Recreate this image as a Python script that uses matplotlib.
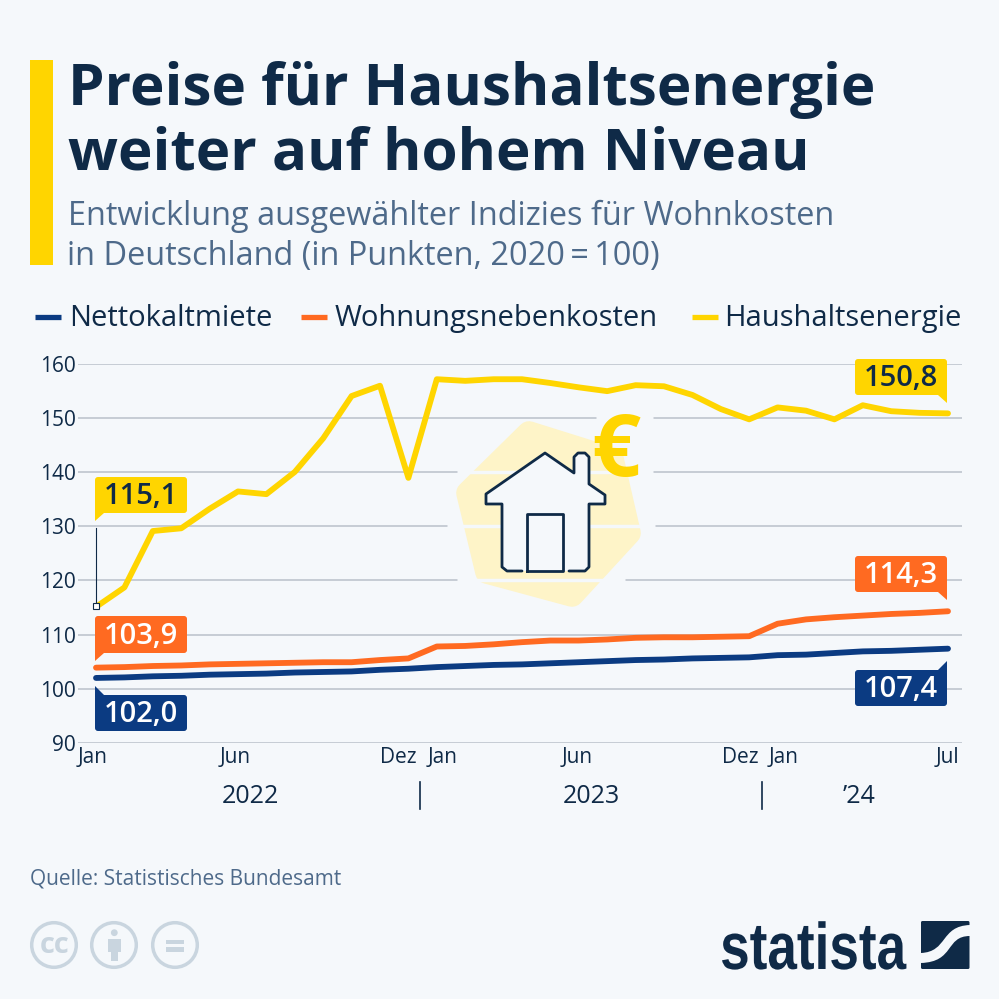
import matplotlib
matplotlib.use("Agg")
import matplotlib.pyplot as plt
from matplotlib.patches import FancyBboxPatch, Polygon, Rectangle, Circle, PathPatch
from matplotlib.path import Path
from matplotlib.patheffects import AbstractPathEffect
from matplotlib.transforms import Affine2D, ScaledTranslation

# Data
months = list(range(31))
haushaltsenergie = [115.1, 118.7, 129.1, 129.6, 133.2, 136.4, 135.9, 140.0, 146.2, 154.0, 155.9, 138.9,
                    157.1, 156.8, 157.1, 157.1, 156.4, 155.6, 154.9, 156.0, 155.8, 154.2, 151.6, 149.7,
                    151.9, 151.3, 149.7, 152.3, 151.2, 150.9, 150.8]
nebenkosten = [103.9, 104.0, 104.2, 104.3, 104.5, 104.6, 104.7, 104.8, 104.9, 104.9, 105.3, 105.6,
               107.8, 107.9, 108.2, 108.6, 108.9, 108.9, 109.1, 109.4, 109.5, 109.5, 109.6, 109.7,
               112.0, 112.8, 113.2, 113.5, 113.8, 114.0, 114.3]
nettokaltmiete = [102.0, 102.1, 102.3, 102.4, 102.6, 102.7, 102.8, 103.0, 103.1, 103.2, 103.5, 103.7,
                  104.0, 104.2, 104.4, 104.5, 104.7, 104.9, 105.1, 105.3, 105.4, 105.6, 105.7, 105.8,
                  106.2, 106.3, 106.6, 106.9, 107.0, 107.2, 107.4]
y_ticks = [90, 100, 110, 120, 130, 140, 150, 160]
x_tick_pos = [0, 5, 11, 12, 17, 23, 24, 30]
x_tick_labels = ["Jan", "Jun", "Dez", "Jan", "Jun", "Dez", "Jan", "Jul"]

# Colours
BG = "#F5F8FB"
DARK = "#0F2A47"
GREY = "#4E6A8A"
YELLOW = "#FFD500"
ORANGE = "#FF6A21"
BLUE = "#0B3B82"
ICON = "#C9D5DF"
HALO = "#FEF4C8"

plt.rcParams["font.family"] = ["Open Sans", "DejaVu Sans"]

fig = plt.figure(figsize=(9.99, 9.99), dpi=100, facecolor=BG)

# Main chart
ax = fig.add_axes([78 / 999, (999 - 743) / 999, 884 / 999, 379.5 / 999], facecolor="none")
ax.set_xlim(-18 / 28.4, 866 / 28.4)
ax.set_ylim(90, 160)
ax.plot(months, nettokaltmiete, color=BLUE, linewidth=4.2, solid_capstyle="round", zorder=3)
ax.plot(months, nebenkosten, color=ORANGE, linewidth=4.2, solid_capstyle="round", zorder=4)
ax.plot(months, haushaltsenergie, color=YELLOW, linewidth=4.2, solid_capstyle="round", zorder=5)

ax.set_yticks(y_ticks)
ax.grid(True, axis="y", color="#B9C1CA", linewidth=1.1)
ax.grid(False, axis="x")
ax.set_axisbelow(True)
for spine in ax.spines.values():
    spine.set_visible(False)
ax.tick_params(axis="y", length=0, pad=1.5, labelsize=15, labelcolor=DARK)
ax.set_xticks(x_tick_pos)
ax.set_xticklabels(x_tick_labels)
ax.tick_params(axis="x", length=0, pad=3, labelsize=15, labelcolor=DARK)
x_shift = [-3, -3, -10, 6, -2, -9, 6, -1]
for lab, dx in zip(ax.get_xticklabels(), x_shift):
    lab.set_transform(lab.get_transform() + ScaledTranslation(dx / 100, 0, fig.dpi_scale_trans))

# Overlay in pixel coordinates
ov = fig.add_axes([0, 0, 1, 1], facecolor="none")
ov.set_xlim(0, 999)
ov.set_ylim(999, 0)
ov.axis("off")

# Title block
ov.add_patch(Rectangle((30, 60), 23, 205, color=YELLOW, lw=0))
ov.text(68, 105, "Preise für Haushaltsenergie", fontsize=42, fontweight="bold", color=DARK, va="baseline")
ov.text(68, 170, "weiter auf hohem Niveau", fontsize=42, fontweight="bold", color=DARK, va="baseline")
ov.text(68, 225, "Entwicklung ausgewählter Indizies für Wohnkosten", fontsize=23.4, color=GREY, va="baseline")
ov.text(67, 265, "in Deutschland (in Punkten, 2020\u2009=\u2009100)", fontsize=23.4, color=GREY, va="baseline")

# Legend
legend_items = [("Nettokaltmiete", BLUE, 35, 69), ("Wohnungsnebenkosten", ORANGE, 301, 335),
                ("Haushaltsenergie", YELLOW, 692, 724)]
for name, col, x0, xt in legend_items:
    ov.plot([x0, x0 + 26], [317, 317], color=col, linewidth=3.8, solid_capstyle="butt")
    ov.text(xt, 326, name, fontsize=21, color=DARK, va="baseline")

# Gaps in the grid around the icon
for y, x0, x1 in [(417.7, 596, 653), (471.9, 457, 653), (526.1, 447, 655), (580.3, 457, 625)]:
    ov.plot([x0, x1], [y, y], color=BG, linewidth=2.5, solid_capstyle="butt")

# House icon
halo = [(529, 433), (612, 459), (629, 533), (572, 595), (487, 572), (468, 493)]
ov.add_patch(Polygon(halo, closed=True, facecolor=HALO, edgecolor=HALO, lw=17, joinstyle="round"))
house = [(522, 571), (507, 571), (502, 567), (502, 504), (486, 504), (486, 494), (545, 453), (574, 473),
         (574, 457), (578, 453), (585, 453), (589, 457), (589, 484), (605, 495), (605, 504), (589, 504),
         (589, 567), (585, 571), (569, 571)]
ov.add_patch(Polygon(house, closed=True, facecolor=BG, edgecolor="none"))
ov.plot(*zip(*house), color=DARK, linewidth=2, solid_joinstyle="round", solid_capstyle="round")
door = [(527, 571), (527, 514), (563, 514), (563, 571), (527, 571)]
ov.plot(*zip(*door), color=DARK, linewidth=2, solid_joinstyle="round")
ov.text(616, 476, "€", fontsize=62, fontweight="bold", color=YELLOW, ha="center", va="baseline")


# Callouts
def callout(x0, y0, x1, y1, tail, color, tcolor, value):
    ov.add_patch(FancyBboxPatch((x0 + 3, y0 + 3), x1 - x0 - 6, y1 - y0 - 6, boxstyle="round,pad=3,rounding_size=3",
                                facecolor=color, edgecolor="none", zorder=6))
    ov.add_patch(Polygon(tail, closed=True, facecolor=color, edgecolor="none", zorder=6))
    ov.text((x0 + x1) / 2, y1 - 9, f"{value:.1f}".replace(".", ","), fontsize=21, fontweight=600,
            color=tcolor, ha="center", va="baseline", zorder=7)


callout(95, 477, 187, 513, [(95, 510), (95, 521), (104, 513)], YELLOW, DARK, haushaltsenergie[0])
callout(95, 616, 187, 653, [(95, 650), (95, 661), (104, 653)], ORANGE, "white", nebenkosten[0])
callout(95, 695, 187, 731, [(95, 698), (95, 686), (104, 695)], BLUE, "white", nettokaltmiete[0])
callout(855, 359, 947, 395, [(947, 392), (947, 403), (938, 395)], YELLOW, DARK, haushaltsenergie[-1])
callout(855, 556, 947, 592, [(947, 589), (947, 600), (938, 592)], ORANGE, "white", nebenkosten[-1])
callout(855, 670, 947, 706, [(947, 673), (947, 661), (938, 670)], BLUE, "white", nettokaltmiete[-1])

# Leader to the first point
ov.plot([96, 96], [528, 604], color=DARK, linewidth=0.8)
ov.plot([96], [606], marker="s", markersize=4.2, markerfacecolor="white", markeredgecolor=DARK, markeredgewidth=0.8)

# Years under the axis
for xc, year in [(250, "2022"), (591, "2023"), (859, "’24")]:
    ov.text(xc, 803, year, fontsize=18, color=DARK, ha="center", va="baseline")
for xs in (420, 762):
    ov.plot([xs, xs], [782, 809], color=DARK, linewidth=1.2)

# Source
ov.text(30, 885, "Quelle: Statistisches Bundesamt", fontsize=15, color=GREY, va="baseline")

# Licence icons
for xc in (54, 114, 175):
    ov.add_patch(Circle((xc, 945), 22.3, facecolor="none", edgecolor=ICON, lw=2.5))
ov.text(54.5, 953, "cc", fontsize=21, fontweight="bold", color=ICON, ha="center", va="baseline")
ov.add_patch(Circle((114.3, 932.7), 3.4, color=ICON, lw=0))
ov.add_patch(Rectangle((107.7, 939), 13.3, 13, color=ICON, lw=0))
ov.add_patch(Rectangle((110.7, 952), 7.6, 9, color=ICON, lw=0))
ov.add_patch(Rectangle((165.7, 940), 18.3, 4.2, color=ICON, lw=0))
ov.add_patch(Rectangle((165.7, 947), 18.3, 4.7, color=ICON, lw=0))


# Logo wordmark is condensed, no narrow font installed, so squeeze the text sideways
class SqueezeX(AbstractPathEffect):
    def __init__(self, sx, x0):
        super().__init__()
        self.sx = sx
        self.x0 = x0

    def draw_path(self, renderer, gc, tpath, affine, rgbFace=None):
        squeeze = Affine2D().translate(-self.x0, 0).scale(self.sx, 1).translate(self.x0, 0)
        renderer.draw_path(gc, tpath, affine + squeeze, rgbFace)


ov.text(906, 969, "statista", fontsize=47.5, fontweight="bold", family=["Liberation Sans", "DejaVu Sans"],
        color=DARK, ha="right", va="baseline", path_effects=[SqueezeX(0.805, 906)])
ov.add_patch(FancyBboxPatch((922, 922), 46.5, 46, boxstyle="round,pad=1,rounding_size=1.5", facecolor=DARK,
                            edgecolor="none"))
swoosh = Path([(920.7, 953), (948, 952), (940, 926), (970, 925), (970, 936), (945, 936), (955, 962), (920.7, 963),
               (920.7, 953)],
              [Path.MOVETO, Path.CURVE4, Path.CURVE4, Path.CURVE4, Path.LINETO, Path.CURVE4, Path.CURVE4, Path.CURVE4,
               Path.CLOSEPOLY])
ov.add_patch(PathPatch(swoosh, facecolor=BG, edgecolor="none"))

fig.savefig("out.png", dpi=100, facecolor=BG)
